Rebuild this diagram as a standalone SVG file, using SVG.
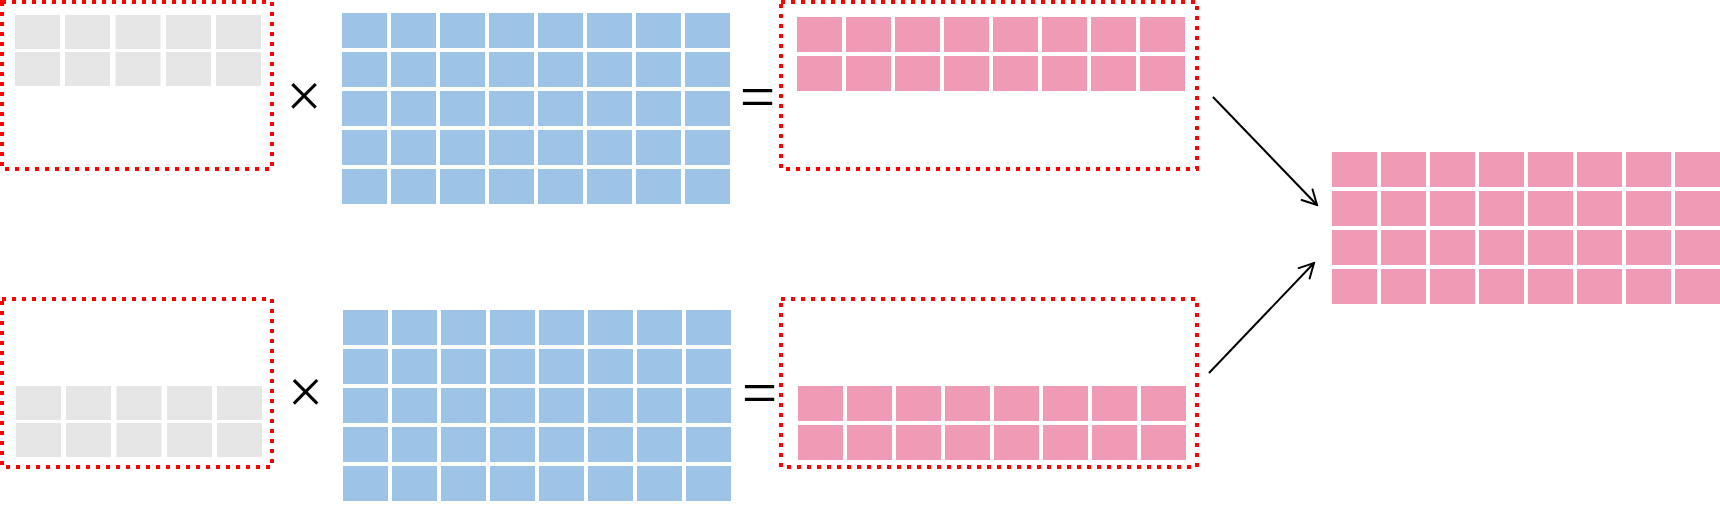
<svg xmlns="http://www.w3.org/2000/svg" width="1720" height="508" viewBox="0 0 1720 508">
  <defs>
    <style>
      .frame { fill: none; stroke: #ff0000; stroke-width: 4; stroke-dasharray: 4 6; }
      .g { fill: #e6e6e6; }
      .b { fill: #9dc3e6; }
      .p { fill: #f09bb5; }
      .op { font-family: "Liberation Serif", "Times New Roman", serif; font-size: 63px; fill: #000; text-anchor: middle; }
      .arrow { stroke: #000; stroke-width: 2; fill: none; marker-end: url(#open); }
    </style>
    <marker id="open" markerUnits="userSpaceOnUse" viewBox="-17 -10 19 20" refX="0" refY="0" markerWidth="19" markerHeight="20" orient="auto">
      <path d="M -14.3 -7.6 L 0 0 L -14.3 7.6" fill="none" stroke="#000" stroke-width="2" stroke-linecap="round" stroke-linejoin="miter"/>
    </marker>
    <g id="brow8">
      <rect class="b" x="0" y="0" width="45" height="35"/>
      <rect class="b" x="49" y="0" width="45" height="35"/>
      <rect class="b" x="98" y="0" width="45" height="35"/>
      <rect class="b" x="147" y="0" width="45" height="35"/>
      <rect class="b" x="196" y="0" width="45" height="35"/>
      <rect class="b" x="245" y="0" width="45" height="35"/>
      <rect class="b" x="294" y="0" width="45" height="35"/>
      <rect class="b" x="343" y="0" width="45" height="35"/>
    </g>
    <g id="prow8">
      <rect class="p" x="0" y="0" width="45" height="35"/>
      <rect class="p" x="49" y="0" width="45" height="35"/>
      <rect class="p" x="98" y="0" width="45" height="35"/>
      <rect class="p" x="147" y="0" width="45" height="35"/>
      <rect class="p" x="196" y="0" width="45" height="35"/>
      <rect class="p" x="245" y="0" width="45" height="35"/>
      <rect class="p" x="294" y="0" width="45" height="35"/>
      <rect class="p" x="343" y="0" width="45" height="35"/>
    </g>
    <g id="grow5">
      <rect class="g" x="0" y="0" width="45" height="34"/>
      <rect class="g" x="50" y="0" width="45" height="34"/>
      <rect class="g" x="100.5" y="0" width="45" height="34"/>
      <rect class="g" x="151" y="0" width="45" height="34"/>
      <rect class="g" x="201" y="0" width="45" height="34"/>
    </g>
  </defs>

  <rect x="0" y="0" width="1720" height="508" fill="#fff"/>

  <!-- Top row -->
  <g id="lhs-top">
    <use href="#grow5" x="15" y="15"/>
    <use href="#grow5" x="15" y="52"/>
    <rect class="frame" x="2" y="2" width="270" height="167"/>
  </g>
  <g id="times-top"><text class="op" x="304" y="116.5">×</text></g>
  <g id="weights-top">
    <use href="#brow8" x="342" y="13"/>
    <use href="#brow8" x="342" y="52"/>
    <use href="#brow8" x="342" y="91"/>
    <use href="#brow8" x="342" y="130"/>
    <use href="#brow8" x="342" y="169"/>
  </g>
  <g id="equals-top"><text class="op" x="757.5" y="117.5">=</text></g>
  <g id="out-top">
    <use href="#prow8" x="797" y="17"/>
    <use href="#prow8" x="797" y="56"/>
    <rect class="frame" x="781" y="2" width="416" height="167"/>
  </g>

  <!-- Bottom row -->
  <g id="lhs-bottom">
    <use href="#grow5" x="16" y="386"/>
    <use href="#grow5" x="16" y="423"/>
    <rect class="frame" x="2" y="299" width="270" height="168"/>
  </g>
  <g id="times-bottom"><text class="op" x="305.5" y="413">×</text></g>
  <g id="weights-bottom">
    <use href="#brow8" x="343" y="310"/>
    <use href="#brow8" x="343" y="349"/>
    <use href="#brow8" x="343" y="388"/>
    <use href="#brow8" x="343" y="427"/>
    <use href="#brow8" x="343" y="466"/>
  </g>
  <g id="equals-bottom"><text class="op" x="759.5" y="413.5">=</text></g>
  <g id="out-bottom">
    <use href="#prow8" x="798" y="386"/>
    <use href="#prow8" x="798" y="425"/>
    <rect class="frame" x="781" y="299" width="416" height="168"/>
  </g>

  <!-- Result -->
  <g id="result">
    <use href="#prow8" x="1332" y="152"/>
    <use href="#prow8" x="1332" y="191"/>
    <use href="#prow8" x="1332" y="230"/>
    <use href="#prow8" x="1332" y="269"/>
  </g>

  <!-- Connectors -->
  <g id="connectors">
    <line class="arrow" x1="1213" y1="97" x2="1317" y2="205"/>
    <line class="arrow" x1="1209" y1="373" x2="1314" y2="263"/>
  </g>
</svg>
